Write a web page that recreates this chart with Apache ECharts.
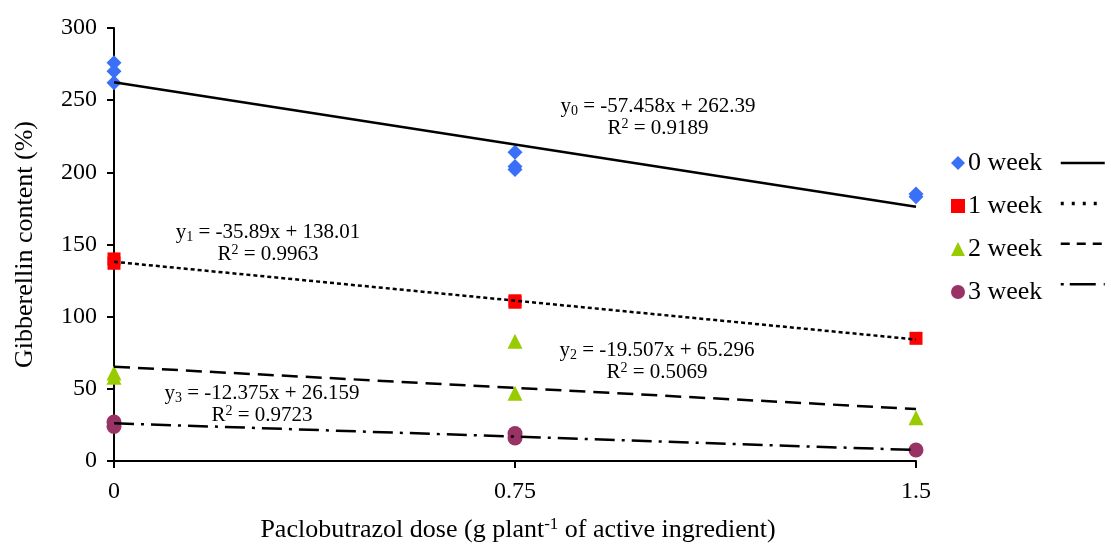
<!DOCTYPE html>
<html>
<head>
<meta charset="utf-8">
<script src="https://cdn.jsdelivr.net/npm/echarts@6/dist/echarts.min.js"></script>
<style>
  html, body { margin: 0; padding: 0; background: #fff; }
  #chart { width: 1111px; height: 547px; }
</style>
</head>
<body>
<div id="chart"></div>
<script>
  // observed points: [dose, gibberellin %]
  var week0 = [[0, 276], [0, 270], [0, 262], [0.75, 214], [0.75, 204], [0.75, 202], [1.5, 185], [1.5, 183]];
  var week1 = [[0, 140], [0, 137], [0.75, 111], [0.75, 110], [1.5, 85]];
  var week2 = [[0, 61], [0, 58], [0.75, 83], [0.75, 47], [1.5, 30]];
  var week3 = [[0, 27], [0, 24], [0.75, 19], [0.75, 16], [1.5, 7.6]];
  // fitted trend lines, end points
  var fit0 = [[0, 262.39], [1.5, 176.2]];
  var fit1 = [[0, 138.01], [1.5, 84.18]];
  var fit2 = [[0, 65.3], [1.5, 36.03]];
  var fit3 = [[0, 26.16], [1.5, 7.6]];
  var names = ["0 week", "1 week", "2 week", "3 week"];
  var colors = ["#3a6ff7", "#ff0000", "#99cc00", "#993366"];
  var symbols = ["diamond", "rect", "triangle", "circle"];
  var symSizes = [15, 13, 15, 15];
  var dashes = ["solid", [4, 3], [16, 8], [20, 7, 3, 7]];
  // legend samples are drawn a bit coarser than the plot lines
  var legendDashes = ["solid", [3, 8], [9, 7], [3, 6, 26, 8]];
  var xTicks = [0, 0.75, 1.5];

  var FONT = "Liberation Serif, Times New Roman, serif";
  var pts = [week0, week1, week2, week3], fits = [fit0, fit1, fit2, fit3];

  var series = [];
  pts.forEach(function (d, i) {
    series.push({ name: names[i], type: "scatter", data: d, symbol: symbols[i], symbolSize: symSizes[i],
      itemStyle: { color: colors[i], opacity: 1 }, z: 3 });
  });
  fits.forEach(function (d, i) {
    series.push({ name: names[i] + " fit", type: "line", data: d, symbol: "none", color: "#000",
      lineStyle: { color: "#000", width: 2.5, type: dashes[i] }, z: 4 });
  });

  function eq(sub, txt, r2, cx, cy) {
    return [
      { type: "text", x: cx, y: cy, style: {
        text: "y{s|" + sub + "} = " + txt, font: "21px " + FONT, fill: "#000", textAlign: "center",
        rich: { s: { fontSize: 14, fontFamily: FONT, verticalAlign: "bottom", padding: [9, 0, 0, 0] } } } },
      { type: "text", x: cx, y: cy + 22, style: {
        text: "R{p|2} = " + r2, font: "21px " + FONT, fill: "#000", textAlign: "center",
        rich: { p: { fontSize: 14, fontFamily: FONT, verticalAlign: "top", padding: [0, 0, 9, 0] } } } }
    ];
  }

  var graphics = [].concat(
    eq("0", "-57.458x + 262.39", "0.9189", 658, 95),
    eq("1", "-35.89x + 138.01", "0.9963", 268, 221),
    eq("2", "-19.507x + 65.296", "0.5069", 657, 339),
    eq("3", "-12.375x + 26.159", "0.9723", 262, 382)
  );

  graphics.push({ type: "text", x: 518, y: 516, style: {
    text: "Paclobutrazol dose (g plant{p|-1} of active ingredient)", font: "26px " + FONT, fill: "#000", textAlign: "center",
    rich: { p: { fontSize: 17, fontFamily: FONT, verticalAlign: "top", padding: [0, 0, 11, 0] } } } });

  var chart = echarts.init(document.getElementById("chart"), null, { renderer: "canvas" });
  chart.setOption({
    animation: false,
    backgroundColor: "#fff",
    textStyle: { fontFamily: FONT },
    grid: { left: 114, right: 195, top: 28, bottom: 86 },
    legend: [
      { data: names, orient: "vertical", left: 946, top: 145, itemGap: 17, itemWidth: 14, itemHeight: 14,
        textStyle: { fontSize: 26, fontFamily: FONT, color: "#000", padding: [0, 0, 0, -2] }, selectedMode: false },
      { data: names.map(function (n, i) {
          return { name: n + " fit", lineStyle: { type: legendDashes[i], width: i === 1 ? 3.5 : 2.5 } };
        }),
        orient: "vertical", left: 1054, top: 145, itemGap: 17,
        itemWidth: 44, itemHeight: 26, formatter: function () { return ""; },
        itemStyle: { opacity: 0 }, lineStyle: { color: "#000", width: 2.5 },
        textStyle: { fontSize: 26, fontFamily: FONT }, selectedMode: false }
    ],
    xAxis: {
      type: "value", min: 0, max: 1.5, interval: 0.75,
      axisLine: { lineStyle: { color: "#000", width: 2 } },
      axisTick: { show: true, length: 7, lineStyle: { color: "#000", width: 2 } },
      axisLabel: { fontSize: 24, color: "#000", fontFamily: FONT, margin: 19,
        formatter: function (v) { return xTicks.indexOf(v) >= 0 ? String(v) : ""; } },
      splitLine: { show: false }
    },
    yAxis: {
      type: "value", min: 0, max: 300, interval: 50,
      name: "Gibberellin content (%)", nameLocation: "middle", nameGap: 76, nameRotate: 90,
      nameTextStyle: { fontSize: 26, color: "#000", fontFamily: FONT },
      axisLine: { show: true, lineStyle: { color: "#000", width: 2 } },
      axisTick: { show: true, length: 7, lineStyle: { color: "#000", width: 2 } },
      axisLabel: { fontSize: 24, color: "#000", fontFamily: FONT, margin: 17 },
      splitLine: { show: false }
    },
    graphic: graphics,
    series: series
  });
</script>
</body>
</html>
